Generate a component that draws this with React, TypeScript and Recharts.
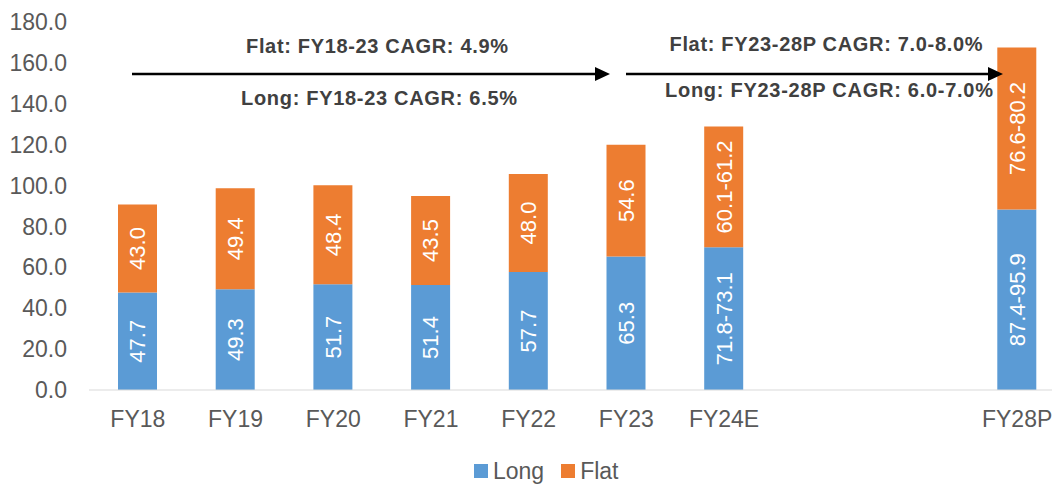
import React from "react";
import { BarChart, Bar, XAxis, YAxis, LabelList } from "recharts";

const categories = ["FY18", "FY19", "FY20", "FY21", "FY22", "FY23", "FY24E", "", " ", "FY28P"];
const longValues = [47.7, 49.3, 51.7, 51.4, 57.7, 65.3, 69.8, null, null, 88.3];
const flatValues = [43.0, 49.4, 48.4, 43.5, 48.0, 54.6, 59.1, null, null, 79.2];
const longLabels = ["47.7", "49.3", "51.7", "51.4", "57.7", "65.3", "71.8-73.1", "", "", "87.4-95.9"];
const flatLabels = ["43.0", "49.4", "48.4", "43.5", "48.0", "54.6", "60.1-61.2", "", "", "76.6-80.2"];
const yTicks = [0, 20, 40, 60, 80, 100, 120, 140, 160, 180];

const data = categories.map((name, i) => ({
	name,
	long: longValues[i],
	flat: flatValues[i],
	longLabel: longLabels[i],
	flatLabel: flatLabels[i],
}));

const FONT = "'Liberation Sans', Arial, sans-serif";
const BLUE = "#5B9BD5";
const ORANGE = "#ED7D31";
const GREY = "#595959";

const LegendContent = () => (
	<div
		style={{
			display: "flex",
			alignItems: "center",
			fontFamily: FONT,
			fontSize: 23,
			color: GREY,
			height: 40,
			paddingLeft: 474,
		}}
	>
		{[
			{ label: "Long", color: BLUE },
			{ label: "Flat", color: ORANGE },
		].map((it) => (
			<span key={it.label} style={{ display: "flex", alignItems: "center", marginRight: 17 }}>
				<span style={{ width: 14, height: 14, background: it.color, marginRight: 5, display: "inline-block" }} />
				{it.label}
			</span>
		))}
	</div>
);

export default function App() {
	return (
		<div style={{ position: "absolute", left: 0, top: 0, width: 1052, height: 484, overflow: "hidden", background: "#fff" }}>
			<BarChart
				width={1070}
				height={484}
				data={data}
				margin={{ top: 22, right: 4, left: 0, bottom: 40 }}
				barSize={39}
			>
				<XAxis
					dataKey="name"
					tickLine={false}
					axisLine={{ stroke: "#d9d9d9" }}
					tick={{ fill: GREY, fontSize: 23, fontFamily: FONT }}
					tickMargin={15}
					height={54}
					interval={0}
				/>
				<YAxis
					domain={[0, 180]}
					ticks={yTicks}
					width={89}
					axisLine={false}
					tickLine={false}
					tickMargin={16}
					tick={{ fill: GREY, fontSize: 23, fontFamily: FONT }}
					tickFormatter={(v: number) => v.toFixed(1)}
				/>
				<Bar dataKey="long" stackId="a" fill={BLUE} isAnimationActive={false}>
					<LabelList dataKey="longLabel" position="center" angle={-90} fill="#fff" fontSize={22} fontFamily={FONT} />
				</Bar>
				<Bar dataKey="flat" stackId="a" fill={ORANGE} isAnimationActive={false}>
					<LabelList dataKey="flatLabel" position="center" angle={-90} fill="#fff" fontSize={22} fontFamily={FONT} />
				</Bar>
			</BarChart>
			<div style={{ position: "absolute", left: 0, top: 451, width: 1052 }}>
				<LegendContent />
			</div>
			<svg width={1052} height={130} style={{ position: "absolute", left: 0, top: 0 }}>
				<g fontFamily={FONT} fontWeight="bold" fontSize={20} fill="#404040" textAnchor="middle">
					<text x={377} y={53} textLength={262} lengthAdjust="spacing">Flat: FY18-23 CAGR: 4.9%</text>
					<text x={379} y={105} textLength={276} lengthAdjust="spacing">Long: FY18-23 CAGR: 6.5%</text>
					<text x={826} y={51} textLength={313} lengthAdjust="spacing">Flat: FY23-28P CAGR: 7.0-8.0%</text>
					<text x={829} y={97} textLength={328} lengthAdjust="spacing">Long: FY23-28P CAGR: 6.0-7.0%</text>
				</g>
				<line x1={132} y1={74} x2={596} y2={74} stroke="#000" strokeWidth={2.5} />
				<path d="M595,67 L610,74 L595,81 z" fill="#000" />
				<line x1={626} y1={74} x2={989} y2={74} stroke="#000" strokeWidth={2.5} />
				<path d="M988,67 L1003,74 L988,81 z" fill="#000" />
			</svg>
		</div>
	);
}
